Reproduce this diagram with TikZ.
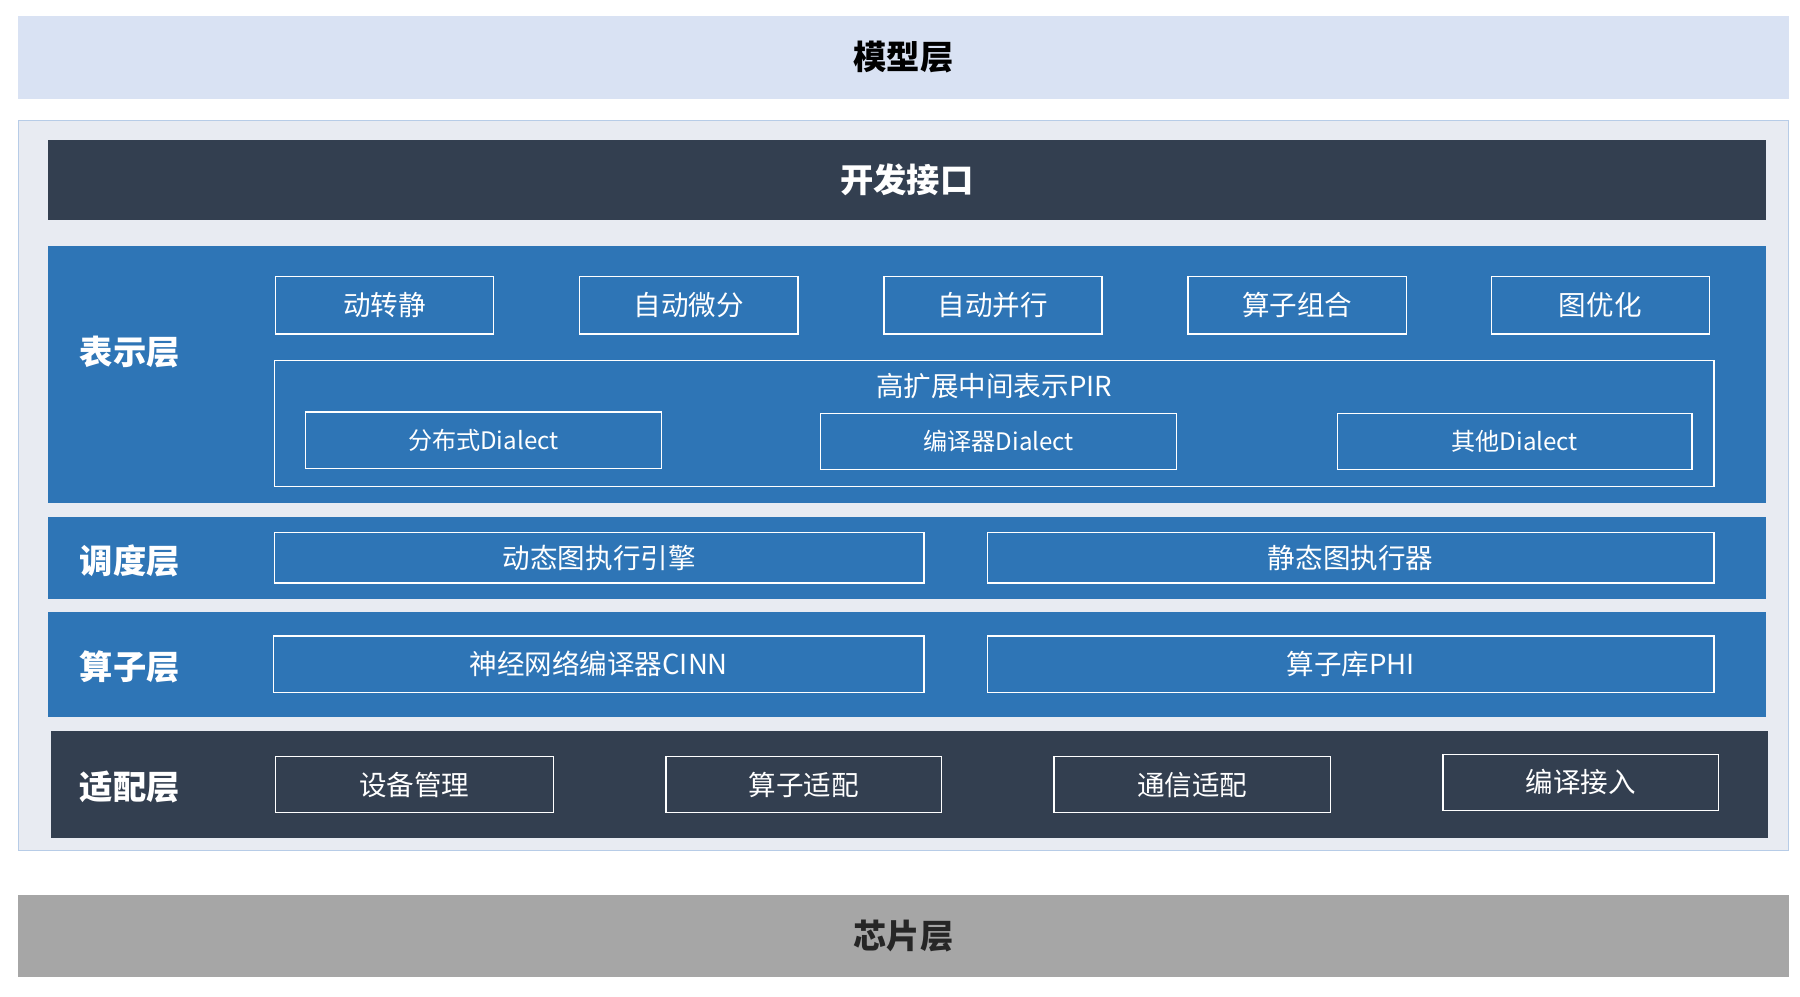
\documentclass[tikz,border=0pt]{standalone}
\usepackage{fontspec}
\setmainfont{Noto Sans CJK SC}
\definecolor{lblue}{HTML}{D9E2F3}
\definecolor{dark}{HTML}{333F50}
\definecolor{mblue}{HTML}{2E75B6}
\definecolor{outerbg}{HTML}{E8EBF2}
\definecolor{grayband}{HTML}{A6A6A6}
\newcommand\bx[7]{\node[#7, minimum width={#4pt-#2pt}, minimum height={#5pt-#3pt}] (#1) at ({(#2+#4)/2},{(#3+#5)/2}) {#6};}
\tikzset{
 band/.style={inner sep=0pt, draw=none},
 ibox/.style={inner sep=0pt, draw=white, line width=1.2pt, text=white, font=\fontsize{24}{28}\selectfont},
 dbox/.style={ibox, font=\fontsize{21}{25}\selectfont},
 lab/.style={text=white, font=\fontsize{29}{34}\selectfont\bfseries},
}
\begin{document}
\begin{tikzpicture}[x=1pt,y=-1pt]
\useasboundingbox (0,0) rectangle (1568,868);
\bx{model}{16}{14}{1558}{86}{\fontsize{29}{34}\selectfont\bfseries 模型层}{band, fill=lblue, text=black}
\bx{outer}{16}{105}{1558}{741}{}{inner sep=0pt, fill=outerbg, draw=lblue!80!mblue, line width=0.8pt}
\bx{api}{42}{122}{1538}{192}{\fontsize{29}{34}\selectfont\bfseries 开发接口}{band, fill=dark, text=white}
\bx{repr}{42}{214}{1538}{438}{}{band, fill=mblue}
\node[lab] (reprl) at (113,307) {表示层};
\bx{a1}{240}{241}{430}{291}{动转静}{ibox}
\bx{a2}{505}{241}{695}{291}{自动微分}{ibox}
\bx{a3}{770}{241}{960}{291}{自动并行}{ibox}
\bx{a4}{1035}{241}{1225}{291}{算子组合}{ibox}
\bx{a5}{1299}{241}{1489}{291}{图优化}{ibox}
\bx{pir}{239}{314}{1493}{424}{}{ibox}
\node[text=white, font=\fontsize{24}{28}\selectfont] (pirt) at (866,336) {高扩展中间表示PIR};
\bx{d1}{266}{359}{576}{408}{分布式Dialect}{dbox}
\bx{d2}{715}{360}{1025}{409}{编译器Dialect}{dbox}
\bx{d3}{1165}{360}{1474}{409}{其他Dialect}{dbox}
\bx{sched}{42}{450}{1538}{522}{}{band, fill=mblue}
\node[lab] (schedl) at (113,489) {调度层};
\bx{s1}{239}{464}{805}{508}{动态图执行引擎}{ibox}
\bx{s2}{860}{464}{1493}{508}{静态图执行器}{ibox}
\bx{op}{42}{533}{1538}{625}{}{band, fill=mblue}
\node[lab] (opl) at (113,581) {算子层};
\bx{o1}{238}{554}{805}{603}{神经网络编译器CINN}{ibox}
\bx{o2}{860}{554}{1493}{603}{算子库PHI}{ibox}
\bx{adp}{44}{637}{1540}{730}{}{band, fill=dark}
\node[lab] (adpl) at (113,686) {适配层};
\bx{p1}{240}{659}{482}{708}{设备管理}{ibox}
\bx{p2}{580}{659}{820}{708}{算子适配}{ibox}
\bx{p3}{918}{659}{1159}{708}{通信适配}{ibox}
\bx{p4}{1257}{657}{1497}{706}{编译接入}{ibox}
\bx{chip}{16}{780}{1558}{851}{\fontsize{29}{34}\selectfont\bfseries 芯片层}{band, fill=grayband, text=black!85}
\end{tikzpicture}
\end{document}
